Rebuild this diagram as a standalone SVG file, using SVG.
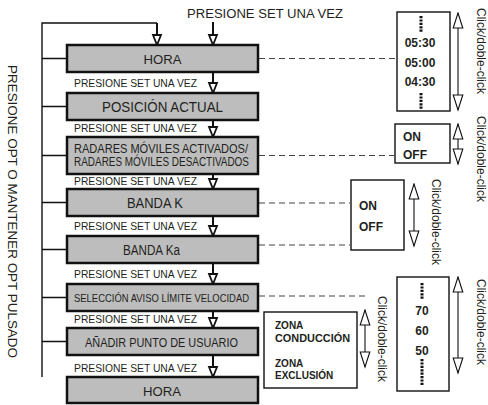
<svg xmlns="http://www.w3.org/2000/svg" width="488" height="405" viewBox="0 0 488 405">
<defs>
<style>
text{font-family:"Liberation Sans",Arial,sans-serif;fill:#231f20}
.box{fill:#bdbdbd;stroke:#111;stroke-width:2.5}
.wbox{fill:#fff;stroke:#111;stroke-width:1.4}
.lbl{text-anchor:middle}
.press{font-size:10.5px}
.opt{font-weight:bold;font-size:12px}
.ln{fill:none;stroke:#111;stroke-width:1.4}
.arr{fill:none;stroke:#111;stroke-width:2;marker-end:url(#ah)}
.dash{fill:none;stroke:#444;stroke-width:1.2;stroke-dasharray:6 4}
.dbl{fill:none;stroke:#111;stroke-width:1.1;marker-start:url(#dh);marker-end:url(#dh)}
.dot{fill:none;stroke:#111;stroke-width:3;stroke-dasharray:2.2 1.2}
.rot{font-size:12px}
</style>
<marker id="ah" markerUnits="userSpaceOnUse" markerWidth="14" markerHeight="12" viewBox="-1 -6 12 12" refX="10" refY="0" orient="auto">
<path d="M0,-4 L10,0 L0,4 Z" fill="#fff" stroke="#111" stroke-width="1.8"/>
</marker>
<marker id="dh" markerUnits="userSpaceOnUse" markerWidth="18" markerHeight="14" viewBox="-1 -7 17 14" refX="15" refY="0" orient="auto-start-reverse">
<path d="M0,-4.8 L15,0 L0,4.8 Z" fill="#fff" stroke="#111" stroke-width="1.1"/>
</marker>
</defs>

<text x="187" y="18" font-size="12.5" textLength="156" lengthAdjust="spacingAndGlyphs">PRESIONE SET UNA VEZ</text>
<text transform="translate(8,65) rotate(90)" font-size="12.5" textLength="293" lengthAdjust="spacingAndGlyphs">PRESIONE OPT O MANTENER OPT PULSADO</text>

<g id="connectors">
<path class="ln" d="M42,377 V23 H157"/>
<path class="arr" d="M157,23 V45"/>
<path class="arr" d="M213,22 V45"/>
<path class="arr" d="M213,72 V93"/>
<path class="arr" d="M213,120 V137"/>
<path class="arr" d="M213,174 V189"/>
<path class="arr" d="M213,216 V236"/>
<path class="arr" d="M213,263 V284"/>
<path class="arr" d="M213,311 V328"/>
<path class="arr" d="M213,355 V377"/>
<path class="ln" d="M42,58.5 H67 M42,106.5 H67 M42,155.5 H67 M42,202.5 H67 M42,249.5 H67 M42,297.5 H67 M42,341.5 H67"/>
<path class="dash" d="M259,58.5 H396 M259,155.5 H394 M259,203 H350 M259,245 H350 M259,296 H368"/>
<path class="dbl" d="M458,13 V110"/>
<path class="dbl" d="M458,124 V164"/>
<path class="dbl" d="M414,184 V246"/>
<path class="dbl" d="M365,310 V367"/>
<path class="dbl" d="M458,277 V373"/>
</g>

<g class="press">
<text x="74" y="87" textLength="123" lengthAdjust="spacingAndGlyphs">PRESIONE SET UNA VEZ</text>
<text x="74" y="132" textLength="123" lengthAdjust="spacingAndGlyphs">PRESIONE SET UNA VEZ</text>
<text x="74" y="185" textLength="123" lengthAdjust="spacingAndGlyphs">PRESIONE SET UNA VEZ</text>
<text x="74" y="230" textLength="123" lengthAdjust="spacingAndGlyphs">PRESIONE SET UNA VEZ</text>
<text x="74" y="278" textLength="123" lengthAdjust="spacingAndGlyphs">PRESIONE SET UNA VEZ</text>
<text x="74" y="323" textLength="123" lengthAdjust="spacingAndGlyphs">PRESIONE SET UNA VEZ</text>
<text x="74" y="372" textLength="123" lengthAdjust="spacingAndGlyphs">PRESIONE SET UNA VEZ</text>
</g>

<g id="hora">
<rect class="box" x="67" y="45" width="191" height="27"/>
<text class="lbl" x="162.5" y="63.5" font-size="13" textLength="38" lengthAdjust="spacingAndGlyphs">HORA</text>
</g>
<g id="posicion">
<rect class="box" x="67" y="93" width="191" height="27"/>
<text class="lbl" x="162.5" y="112" font-size="14.5" textLength="121" lengthAdjust="spacingAndGlyphs">POSICIÓN ACTUAL</text>
</g>
<g id="radares">
<rect class="box" x="67" y="137" width="191" height="37"/>
<text x="74" y="153" font-size="12" textLength="174" lengthAdjust="spacingAndGlyphs">RADARES MÓVILES ACTIVADOS/</text>
<text x="74" y="166" font-size="12" textLength="175" lengthAdjust="spacingAndGlyphs">RADARES MÓVILES DESACTIVADOS</text>
</g>
<g id="bandak">
<rect class="box" x="67" y="189" width="191" height="27"/>
<text class="lbl" x="155" y="207.5" font-size="14" textLength="56" lengthAdjust="spacingAndGlyphs">BANDA K</text>
</g>
<g id="bandaka">
<rect class="box" x="67" y="236" width="191" height="27"/>
<text class="lbl" x="151.5" y="254.5" font-size="14" textLength="57" lengthAdjust="spacingAndGlyphs">BANDA Ka</text>
</g>
<g id="seleccion">
<rect class="box" x="67" y="284" width="191" height="27"/>
<text x="74" y="301.5" font-size="11.5" textLength="175" lengthAdjust="spacingAndGlyphs">SELECCIÓN AVISO LÍMITE VELOCIDAD</text>
</g>
<g id="anadir">
<rect class="box" x="67" y="328" width="191" height="27"/>
<text x="85" y="346.5" font-size="13.5" textLength="153" lengthAdjust="spacingAndGlyphs">AÑADIR PUNTO DE USUARIO</text>
</g>
<g id="hora2">
<rect class="box" x="67" y="377" width="191" height="26"/>
<text class="lbl" x="162" y="395.5" font-size="13" textLength="38" lengthAdjust="spacingAndGlyphs">HORA</text>
</g>

<g id="horas">
<rect class="wbox" x="397" y="12" width="53" height="99"/>
<path class="dot" d="M421,16 V33 M421,93 V110"/>
<text class="opt lbl" x="420" y="47">05:30</text>
<text class="opt lbl" x="420" y="67">05:00</text>
<text class="opt lbl" x="420" y="86">04:30</text>
<text class="rot" transform="translate(476.5,8) rotate(90)">Click/doble-click</text>
</g>
<g id="radares-onoff">
<rect class="wbox" x="395" y="124" width="55" height="39"/>
<text class="opt" x="403" y="141">ON</text>
<text class="opt" x="403" y="159">OFF</text>
<text class="rot" transform="translate(476.5,116) rotate(90)">Click/doble-click</text>
</g>
<g id="banda-onoff">
<rect class="wbox" x="351" y="180" width="53" height="70"/>
<text class="opt" x="359" y="210">ON</text>
<text class="opt" x="359" y="231">OFF</text>
<text class="rot" transform="translate(432,179) rotate(90)">Click/doble-click</text>
</g>
<g id="zonas">
<rect class="wbox" x="264" y="312" width="93" height="76"/>
<text x="275" y="328.5" font-size="10" font-weight="bold">ZONA</text>
<text x="275" y="341.5" font-size="10" font-weight="bold" textLength="75" lengthAdjust="spacingAndGlyphs">CONDUCCIÓN</text>
<text x="275" y="367" font-size="10" font-weight="bold">ZONA</text>
<text x="275" y="379" font-size="10" font-weight="bold">EXCLUSIÓN</text>
<text class="rot" transform="translate(378,296) rotate(90)">Click/doble-click</text>
</g>
<g id="velocidad">
<rect class="wbox" x="397" y="277" width="52" height="114"/>
<path class="dot" d="M422,283 V299 M422,359 V386"/>
<text class="opt lbl" x="422" y="315">70</text>
<text class="opt lbl" x="422" y="335">60</text>
<text class="opt lbl" x="422" y="355">50</text>
<text class="rot" transform="translate(476.5,279) rotate(90)">Click/doble-click</text>
</g>
</svg>
